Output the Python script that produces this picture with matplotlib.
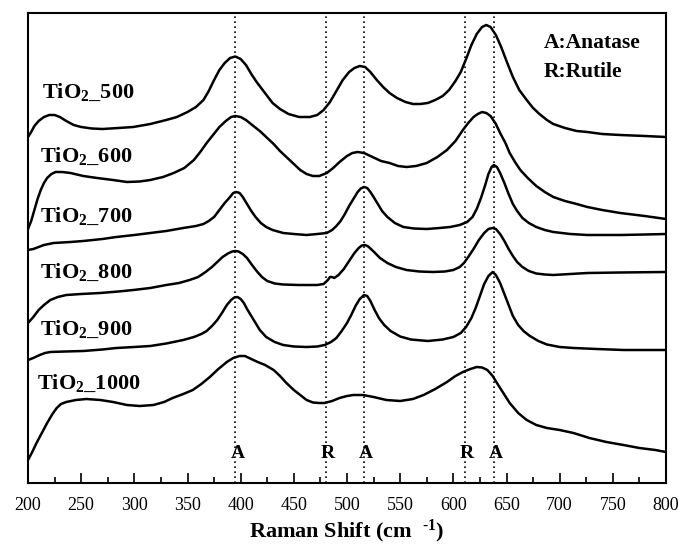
import matplotlib
matplotlib.use("Agg")
import matplotlib.pyplot as plt
from matplotlib.ticker import MultipleLocator

plt.rcParams['font.family'] = ['Liberation Serif', 'DejaVu Serif']
plt.rcParams['mathtext.fontset'] = 'custom'
plt.rcParams['mathtext.rm'] = 'Liberation Serif'
plt.rcParams['mathtext.bf'] = 'Liberation Serif:bold'
plt.rcParams['mathtext.it'] = 'Liberation Serif:italic'

# Raman spectra, offset for stacking (arbitrary units)
shift_500 = [200, 203, 206, 210, 215, 220, 225, 230, 236, 243, 250, 260, 270, 285, 299,
             315, 330, 340, 350, 358, 365, 370, 375, 380, 385, 390, 395, 400, 405, 410,
             415, 420, 425, 430, 437, 445, 455, 465, 472, 478, 484, 490, 496, 502, 507,
             512, 517, 522, 528, 534, 540, 547, 555, 562, 569, 576, 583, 590, 596, 602,
             607, 612, 617, 622, 627, 631, 635, 640, 645, 650, 656, 662, 669, 675, 681,
             688, 694, 705, 716, 726, 740, 757, 780, 800]
int_500 = [346, 351, 357, 362, 366, 368, 368, 366, 362, 358, 356, 354.5, 354, 355, 356,
           359, 363, 366, 371, 376, 383, 392, 403, 413, 420, 425, 426.5, 424, 418, 409,
           401, 394, 387, 380, 374, 369, 366, 366, 368, 373, 381, 392, 403, 411, 415,
           417, 416, 411, 403, 396, 390, 385, 381, 379, 379, 380, 383, 387, 393, 402,
           411, 424, 438, 449, 456, 458, 456, 448, 436, 422, 406, 393, 383, 375, 369,
           363, 359, 355, 352, 351, 349, 348, 347, 346]

shift_600 = [200, 203, 206, 209, 212, 215, 218, 222, 226, 232, 240, 252, 265, 280, 293,
             305, 315, 327, 337, 347, 356, 362, 368, 374, 380, 386, 391, 395, 400, 405,
             412, 418, 424, 431, 437, 443, 450, 456, 462, 468, 474, 481, 487, 493, 500,
             505, 510, 516, 524, 532, 540, 548, 556, 565, 575, 585, 594, 602, 609, 614,
             619, 623, 627, 631, 635, 640, 644, 649, 653, 658, 663, 670, 678, 686, 694,
             705, 716, 726, 740, 757, 780, 800]
int_600 = [254, 262, 273, 284, 293, 300, 305, 309, 311, 311, 310, 307, 305, 303, 301,
           301.5, 303, 306, 310, 315, 323, 331, 340, 348, 356, 362, 366, 367, 366, 363,
           357, 352, 346, 339, 332, 326, 319, 313, 309, 307, 307, 310, 315, 321, 327,
           330, 331, 330, 326, 322, 320, 317, 316, 317, 320, 326, 333, 342, 353, 360,
           366, 369, 371, 370, 367, 359, 350, 340, 330, 321, 313, 305, 297, 291, 286,
           282, 279, 276, 273, 270, 267, 264]

shift_700 = [200, 205, 210, 215, 224, 240, 252, 270, 283, 300, 315, 330, 346, 358, 365,
             370, 375, 380, 385, 390, 393, 396, 399, 402, 406, 410, 414, 419, 424, 430,
             440, 450, 462, 472, 481, 486, 490, 494, 498, 502, 506, 510, 513, 516, 519,
             522, 525, 529, 533, 538, 545, 553, 563, 575, 587, 597, 606, 613, 618, 622,
             626, 630, 633, 636, 638, 641, 644, 648, 652, 656, 660, 665, 671, 678, 686,
             694, 710, 726, 757, 780, 800]
int_700 = [233, 234, 236, 238, 240, 241, 242, 244, 246, 248, 250, 252, 255, 257, 259,
           262, 266, 273, 280, 286, 290, 291, 290, 286, 279, 272, 266, 260, 256, 253,
           250, 249, 248, 249, 250, 253, 257, 262, 269, 277, 284, 291, 294.5, 296, 295,
           291, 286, 279, 272, 266, 260, 256, 254.5, 254, 255, 256, 258, 261, 266, 274,
           285, 298, 309, 316, 318, 316, 310, 300, 289, 279, 272, 265, 260, 256, 253,
           251, 249, 248, 248, 248.5, 249]

shift_800 = [200, 205, 210, 215, 221, 228, 236, 250, 268, 285, 299, 315, 330, 342, 352,
             360, 367, 373, 378, 383, 388, 392, 395, 398, 402, 406, 410, 415, 420, 425,
             432, 440, 455, 472, 478, 482, 484, 486, 488, 492, 497, 502, 507, 511, 514,
             517, 520, 525, 531, 538, 546, 556, 568, 581, 592, 600, 606, 610, 614, 619,
             624, 629, 633, 637, 640, 644, 648, 652, 656, 660, 665, 671, 678, 686, 694,
             710, 726, 757, 800]
int_800 = [160, 166, 173, 178, 183, 186, 188, 189, 190, 191.5, 193, 195, 198, 200, 203,
           206, 211, 216, 221, 226, 229.5, 231.5, 232, 231.5, 229, 225, 219, 212, 206, 202,
           199.5, 198.5, 198, 198, 199, 203, 206, 206, 205, 208, 214, 222, 230, 235, 237.5,
           238, 236.5, 231.5, 225, 220, 216, 213, 211.5, 211, 211.5, 213, 216, 220, 226, 234,
           243, 250, 254, 255, 254, 249, 242, 234, 227, 221, 216, 212, 209.5, 208.5, 208,
           209, 210, 210.5, 211]

shift_900 = [200, 205, 211, 216, 221, 235, 252, 270, 283, 300, 315, 330, 346, 356, 363,
             368, 373, 378, 383, 387, 391, 394, 397, 400, 403, 406, 410, 414, 418, 424,
             432, 440, 450, 462, 472, 479, 485, 490, 495, 500, 504, 508, 512, 516, 519,
             522, 526, 530, 535, 541, 550, 560, 576, 590, 600, 607, 612, 617, 621, 625,
             629, 633, 637, 640, 644, 648, 652, 656, 661, 666, 672, 680, 688, 700, 713,
             735, 760, 800]
int_900 = [123, 125, 128, 130, 131, 131.5, 132, 133.5, 135, 136, 137, 139.5, 143, 146, 149,
           152, 157, 163, 171, 178, 183, 185.5, 186, 184, 180, 174, 167, 160, 153, 146,
           141, 138, 136.5, 136, 136.5, 138, 141, 145, 152, 160, 168, 177, 184, 188, 187,
           182, 173, 165, 158, 152, 146.5, 143.5, 142, 143.5, 146, 150, 156, 165, 175, 187,
           199, 207, 211, 208, 200, 189, 178, 167, 158, 152, 147, 142, 138.5, 136, 135,
           134, 133, 133]

shift_1000 = [200, 204, 208, 213, 218, 223, 227, 231, 236, 245, 255, 268, 280, 293, 305,
              318, 328, 336, 346, 355, 363, 371, 379, 387, 393, 399, 404, 410, 416, 423,
              431, 437, 443, 450, 456, 462, 468, 474, 479, 486, 493, 500, 506, 515, 525,
              537, 550, 562, 572, 583, 594, 602, 609, 616, 622, 627, 632, 637, 641, 647,
              653, 661, 669, 678, 688, 700, 713, 728, 744, 760, 775, 790, 800]
int_1000 = [23, 31, 40, 50, 60, 69, 75, 79, 81, 83, 84, 83, 81, 78, 77,
            78, 81, 85, 89, 93, 99, 106, 114, 121, 125, 127, 127, 124, 121, 118,
            113, 107, 100, 93, 88, 83, 80.5, 80, 80, 82, 85, 87, 88, 88, 86,
            83, 82, 84, 88, 94, 101, 107, 111, 114, 116, 115.5, 113, 107, 100, 90,
            80, 70, 63, 58, 55, 53, 50, 45, 41, 38, 35, 33, 31]

sample_names = ['500', '600', '700', '800', '900', '1000']

# assigned band positions (cm-1) and phase letters
band_pos = [395, 480, 516, 611, 638]
band_phase = ['A', 'R', 'A', 'R', 'A']

spectra = [(shift_500, int_500), (shift_600, int_600), (shift_700, int_700),
           (shift_800, int_800), (shift_900, int_900), (shift_1000, int_1000)]

# where the sample names sit (x in cm-1, y in a.u.)
name_anchor = [(213, 385), (211, 321), (211, 261), (211, 205), (211, 148), (208, 94)]

fig = plt.figure(figsize=(6.78, 5.48), dpi=100)
ax = fig.add_axes([28 / 678, 65 / 548, 638 / 678, 470 / 548])

for x, y in spectra:
    ax.plot(x, y, color='black', lw=1.8, solid_joinstyle='round')

for pos, phase in zip(band_pos, band_phase):
    ax.axvline(pos, color='black', lw=1.2, linestyle=(0, (1, 2)))
    ax.text(pos + 2, 25, phase, ha='center', va='baseline',
            fontsize=14, fontweight='bold')

for name, (tx, ty) in zip(sample_names, name_anchor):
    ax.text(tx, ty, r'TiO$_{\mathbf{2}}$_' + name, ha='left', va='baseline',
            fontsize=16, fontweight='bold')

ax.text(685, 435, 'A:Anatase', ha='left', va='baseline', fontsize=15.5, fontweight='bold')
ax.text(685, 406, 'R:Rutile', ha='left', va='baseline', fontsize=15.5, fontweight='bold')

ax.set_xlim(200, 800)
ax.set_ylim(0, 470)
ax.set_yticks([])
ax.xaxis.set_major_locator(MultipleLocator(50))
ax.xaxis.set_minor_locator(MultipleLocator(25))
ax.tick_params(axis='x', which='major', direction='in', length=7, width=1.2,
               labelsize=13, pad=10, top=False)
ax.tick_params(axis='x', which='minor', direction='in', length=4, width=1.2, top=False)
for spine in ax.spines.values():
    spine.set_linewidth(1.5)

ax.set_xlabel('Raman Shift (cm  $^{\\mathbf{\u2010}\\mathbf{1}}$)', fontsize=16,
              fontweight='bold', labelpad=3)

fig.savefig('out.png', dpi=100)
